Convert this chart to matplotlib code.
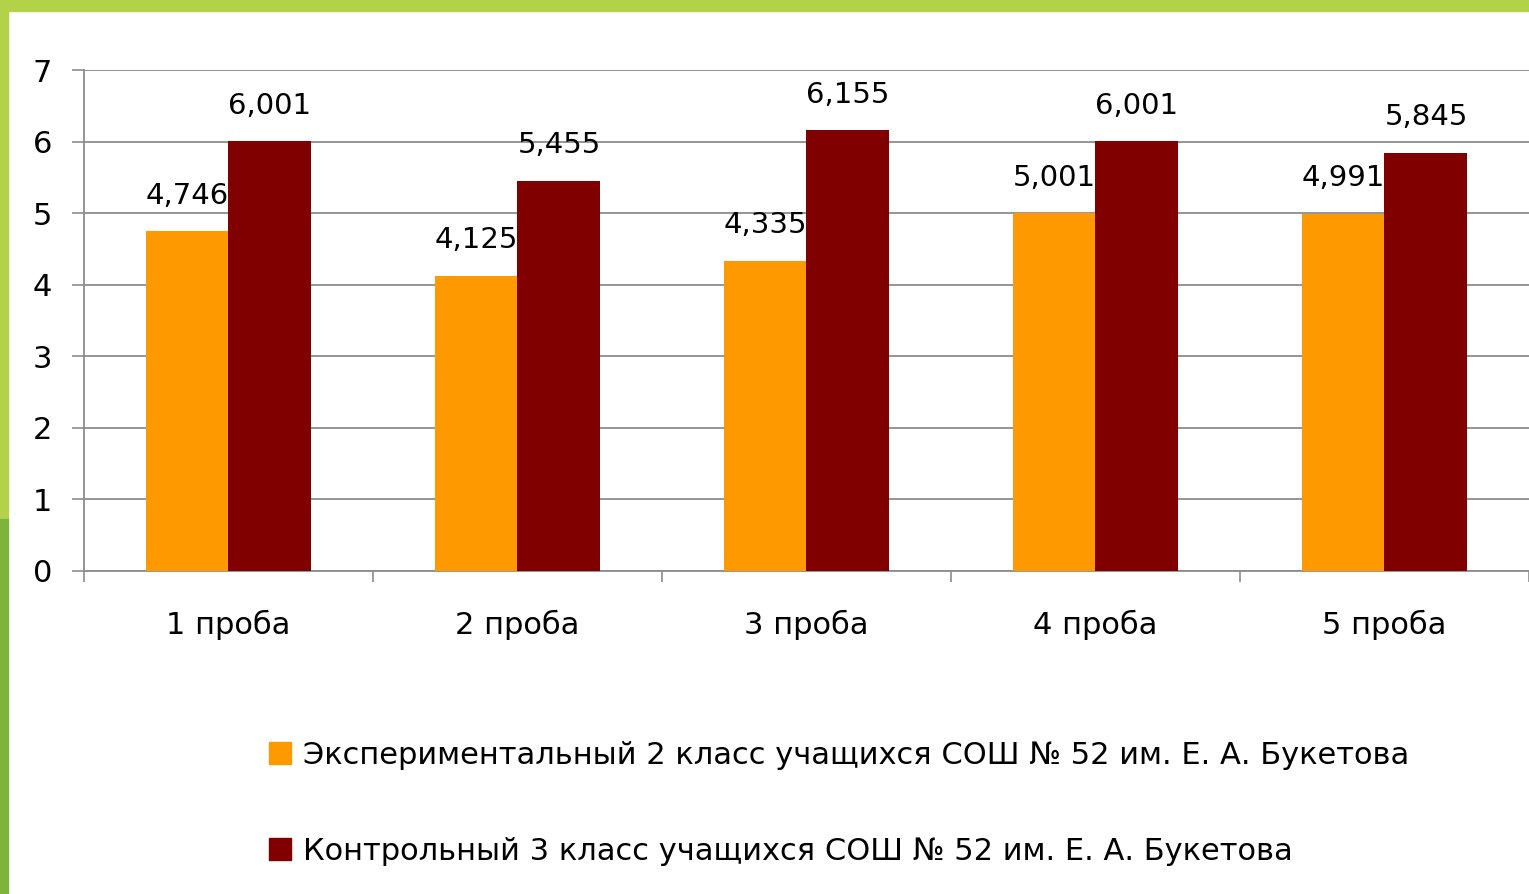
import matplotlib.pyplot as plt
import matplotlib.patches as mpatches
import numpy as np

# Data
categories = ['1 проба', '2 проба', '3 проба', '4 проба', '5 проба']
experimental = [4.746, 4.125, 4.335, 5.001, 4.991]
control = [6.001, 5.455, 6.155, 6.001, 5.845]
series_names = ['Экспериментальный 2 класс учащихся СОШ № 52 им. Е. А. Букетова',
                'Контрольный 3 класс учащихся СОШ № 52 им. Е. А. Букетова']

orange = '#FF9900'
maroon = '#800000'
grid_gray = '#8c8c8c'


def fmt(v):
    return f"{v:.3f}".replace('.', ',')


def main():
    plt.rcParams['font.family'] = ['DejaVu Sans']
    fig = plt.figure(figsize=(15.29, 8.94), dpi=100)

    # green slide border
    fig.patches.append(mpatches.Rectangle((0, 0.988), 1, 0.012, transform=fig.transFigure,
                                          color='#b3d24a', zorder=0))
    fig.patches.append(mpatches.Rectangle((0, 0.42), 0.0055, 0.58, transform=fig.transFigure,
                                          color='#b3d24a', zorder=0))
    fig.patches.append(mpatches.Rectangle((0, 0), 0.0055, 0.42, transform=fig.transFigure,
                                          color='#7db53a', zorder=0))

    ax = fig.add_axes([0.0549, 0.3613, 0.9451, 0.5604])
    x = np.arange(len(categories))
    w = 0.287
    ax.bar(x - w / 2, experimental, w, color=orange, zorder=3)
    ax.bar(x + w / 2, control, w, color=maroon, zorder=3)

    for xi, v in zip(x, experimental):
        ax.text(xi - w / 2, v + 0.30, fmt(v), ha='center', va='bottom', fontsize=21)
    for xi, v in zip(x, control):
        ax.text(xi + w / 2, v + 0.30, fmt(v), ha='center', va='bottom', fontsize=21)

    ax.set_ylim(0, 7)
    ax.set_xlim(-0.5, 4.5)
    ax.set_yticks(range(8))
    ax.yaxis.grid(True, color=grid_gray, linewidth=1.3, zorder=0)
    ax.tick_params(axis='y', length=9, width=1.2, color=grid_gray, pad=14, labelsize=22)

    ax.set_xticks(x)
    ax.set_xticklabels(categories)
    ax.set_xticks(np.arange(-0.5, 5.0, 1.0), minor=True)
    ax.tick_params(axis='x', which='major', length=0, pad=28, labelsize=22)
    ax.tick_params(axis='x', which='minor', length=8, width=1.2, color=grid_gray)

    for side in ['top', 'right']:
        ax.spines[side].set_visible(False)
    for side in ['left', 'bottom']:
        ax.spines[side].set_color(grid_gray)
        ax.spines[side].set_linewidth(1.3)

    handles = [mpatches.Patch(color=orange), mpatches.Patch(color=maroon)]
    fig.legend(handles, series_names, loc='upper left', bbox_to_anchor=(0.168, 0.185),
               frameon=False, fontsize=22, handlelength=0.72, handleheight=0.72,
               handletextpad=0.4, labelspacing=2.2, borderaxespad=0)

    fig.savefig('out.png', dpi=100)


if __name__ == "__main__":
    main()
